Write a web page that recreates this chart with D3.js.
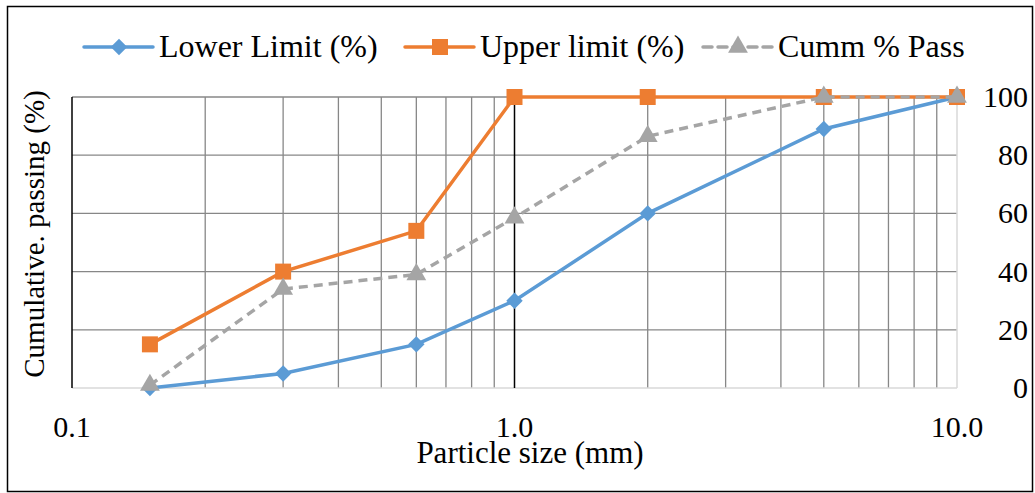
<!DOCTYPE html>
<html>
<head>
<meta charset="utf-8">
<script src="https://cdn.jsdelivr.net/npm/d3@7"></script>
<style>
  body { margin: 0; background: #fff; }
  svg text { font-family: "Liberation Serif", "Times New Roman", serif; fill: #000; }
</style>
</head>
<body>
<div id="chart"></div>
<script>
// Sieve sizes (mm) and percent passing
const sizes = [0.15, 0.3, 0.6, 1.0, 2.0, 5.0, 10.0];
const lowerLimit = [0, 5, 15, 30, 60, 89, 100];
const upperLimit = [15, 40, 54, 100, 100, 100, 100];
const cummPass = [1, 34, 39, 58.5, 86.5, 100, 100];
const yTicks = [0, 20, 40, 60, 80, 100];
const xTickLabels = [[0.1, '0.1'], [1, '1.0'], [10, '10.0']];

const width = 1035, height = 493;
const margin = { left: 72, right: 80, top: 97, bottom: 105 };

const svg = d3.select('#chart').append('svg')
    .attr('width', width)
    .attr('height', height);

// outer frame
svg.append('rect')
    .attr('x', 7.5).attr('y', 6.5)
    .attr('width', 1025).attr('height', 485)
    .attr('fill', 'none')
    .attr('stroke', '#000')
    .attr('stroke-width', 1.5);

const x = d3.scaleLog().domain([0.1, 10]).range([margin.left, width - margin.right + 2]);
const y = d3.scaleLinear().domain([0, 100]).range([height - margin.bottom, margin.top]);

// vertical grid (log minor ticks)
const grid = svg.append('g');
const minor = x.ticks().filter(v => v > 0.1 && v < 10 && Math.abs(v - 1) > 1e-9);
grid.selectAll('line.v').data(minor).enter().append('line')
    .attr('x1', d => x(d)).attr('x2', d => x(d))
    .attr('y1', y(0)).attr('y2', y(100))
    .attr('stroke', '#878787').attr('stroke-width', 1.3);

// horizontal grid
grid.selectAll('line.h').data(yTicks.filter(v => v > 0)).enter().append('line')
    .attr('x1', x(0.1)).attr('x2', x(10))
    .attr('y1', d => y(d)).attr('y2', d => y(d))
    .attr('stroke', '#878787').attr('stroke-width', 1.3);

// light lines at 0 and at 10
grid.append('line')
    .attr('x1', x(0.1)).attr('x2', x(10))
    .attr('y1', y(0)).attr('y2', y(0))
    .attr('stroke', '#d9d9d9').attr('stroke-width', 1.5);
grid.append('line')
    .attr('x1', x(10)).attr('x2', x(10))
    .attr('y1', y(0)).attr('y2', y(100))
    .attr('stroke', '#d9d9d9').attr('stroke-width', 1.5);

// black lines at 0.1 and 1.0
[0.1, 1].forEach(v => {
    grid.append('line')
        .attr('x1', x(v)).attr('x2', x(v))
        .attr('y1', y(0)).attr('y2', y(100))
        .attr('stroke', '#000').attr('stroke-width', 1.5);
});

// right y axis labels
svg.append('g').selectAll('text').data(yTicks).enter().append('text')
    .attr('x', 1028)
    .attr('y', d => y(d) + 10)
    .attr('text-anchor', 'end')
    .attr('font-size', 30)
    .text(d => d);

// x axis labels
svg.append('g').selectAll('text').data(xTickLabels).enter().append('text')
    .attr('x', d => x(d[0]))
    .attr('y', 437)
    .attr('text-anchor', 'middle')
    .attr('font-size', 30)
    .text(d => d[1]);

svg.append('text')
    .attr('x', 530).attr('y', 463)
    .attr('text-anchor', 'middle')
    .attr('font-size', 31)
    .text('Particle size (mm)');

svg.append('text')
    .attr('transform', 'translate(44,234) rotate(-90)')
    .attr('text-anchor', 'middle')
    .attr('font-size', 29)
    .text('Cumulative. passing (%)');

// series
const series = [
    { name: 'Lower Limit (%)', values: lowerLimit, color: '#5B9BD5', dash: null, marker: 'diamond', lx: 84 },
    { name: 'Upper limit (%)', values: upperLimit, color: '#ED7D31', dash: null, marker: 'square', lx: 405 },
    { name: 'Cumm % Pass', values: cummPass, color: '#A5A5A5', dash: '9,6', marker: 'triangle', lx: 703 }
];

// diamond = square turned 45 degrees
const symbols = {
    diamond: { d: d3.symbol().type(d3.symbolSquare).size(135)(), rot: 45 },
    square: { d: d3.symbol().type(d3.symbolSquare).size(256)(), rot: 0 },
    triangle: { d: d3.symbol().type(d3.symbolTriangle).size(170)(), rot: 0 }
};

const line = d3.line().x(d => x(d[0])).y(d => y(d[1]));

series.forEach(s => {
    const pts = sizes.map((v, i) => [v, s.values[i]]);
    const sym = symbols[s.marker];
    const g = svg.append('g');
    g.append('path')
        .datum(pts)
        .attr('d', line)
        .attr('fill', 'none')
        .attr('stroke', s.color)
        .attr('stroke-width', 3.5)
        .attr('stroke-dasharray', s.dash);
    g.selectAll('path.m').data(pts).enter().append('path')
        .attr('transform', d => `translate(${x(d[0])},${y(d[1])}) rotate(${sym.rot})`)
        .attr('d', sym.d)
        .attr('fill', s.color);

    // legend
    const lg = svg.append('g').attr('transform', `translate(${s.lx},47)`);
    lg.append('line')
        .attr('x1', 0).attr('x2', 69)
        .attr('stroke', s.color).attr('stroke-width', 3.5)
        .attr('stroke-linecap', 'round')
        .attr('stroke-dasharray', s.dash);
    lg.append('path')
        .attr('transform', `translate(35,0) rotate(${sym.rot})`)
        .attr('d', sym.d)
        .attr('fill', s.color);
    lg.append('text')
        .attr('x', 75).attr('y', 10)
        .attr('font-size', 32)
        .text(s.name);
});
</script>
</body>
</html>
